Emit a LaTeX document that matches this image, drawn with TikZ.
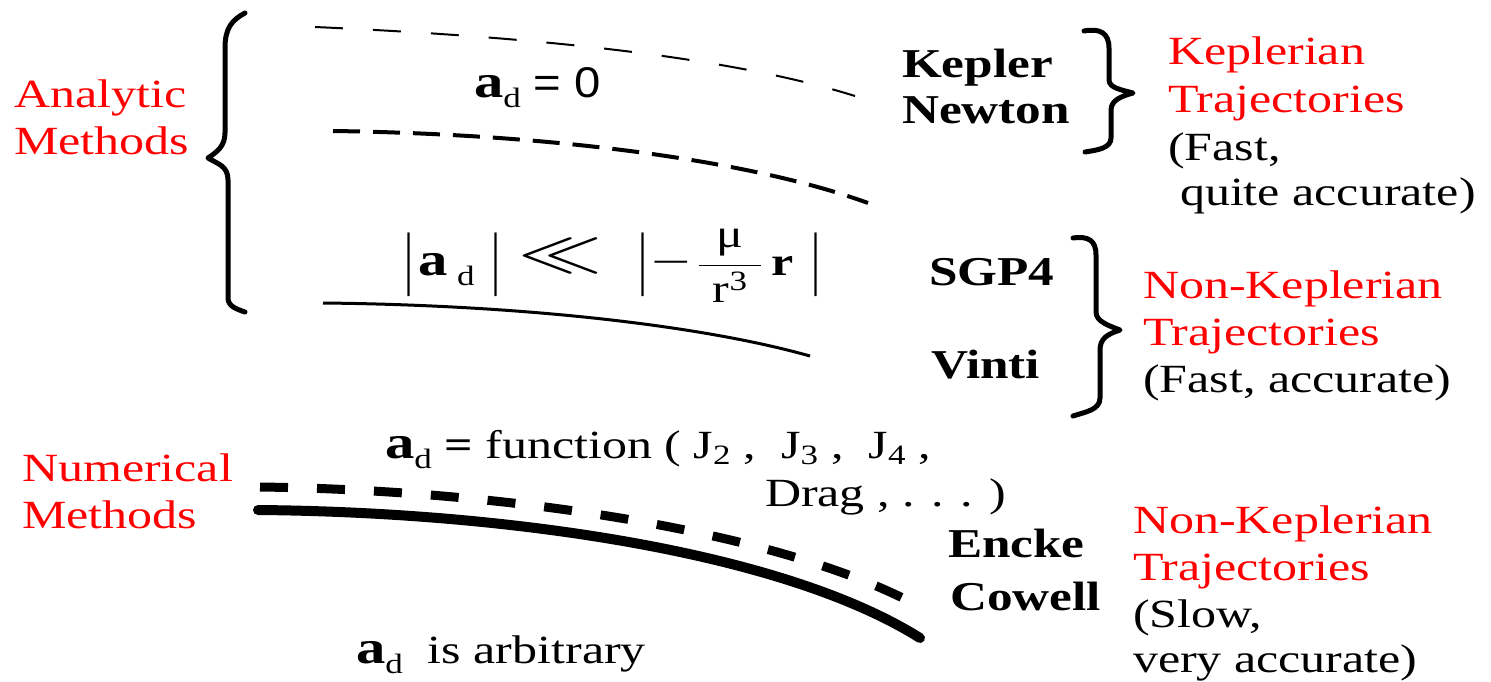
\RequirePackage{fix-cm}
\documentclass[tikz,border=0pt]{standalone}
\usepackage{amsmath}
\usepackage{graphicx}
\usepackage{fontspec}
\setmainfont{Liberation Serif}[FakeStretch=1.25]
\newfontfamily\sansf{Liberation Sans}[FakeStretch=1.1]
\newcommand{\adsym}{{\fontsize{47}{47}\selectfont\textbf{a}}\raisebox{-10pt}{\fontsize{28}{28}\selectfont d}}
\newcommand{\vb}{\raisebox{-6pt}{\scalebox{0.9}[1.75]{|}}}
\begin{document}
\begin{tikzpicture}[x=1pt,y=-1pt,
  txt/.style={anchor=base west,inner sep=0pt,outer sep=0pt,font=\fontsize{40}{47}\selectfont},
  redtxt/.style={txt,text=red},
  bftxt/.style={txt,font=\fontsize{41}{47}\selectfont\bfseries},
  bracepath/.style={line width=5pt,line cap=round,line join=round},
  thindash/.style={line width=2pt,dash pattern=on 28pt off 30pt},
  meddash/.style={line width=4pt,dash pattern=on 27pt off 13pt},
  thickdash/.style={line width=9pt,dash pattern=on 28pt off 29pt},
  solidthin/.style={line width=3pt},
  solidthick/.style={line width=10pt}]
\useasboundingbox (0,0) rectangle (1491,681);

% braces
\draw[bracepath] (245,13) .. controls (232,20) and (225,28) .. (225,48) -- (225,133)
  .. controls (225,146) and (217,152) .. (208,158)
  .. controls (218,164) and (228,166) .. (228,180) -- (228,298)
  .. controls (228,306) and (236,309) .. (245,312);
\draw[bracepath] (1084,31) .. controls (1100,28) and (1109,33) .. (1109,48) -- (1109,80)
  .. controls (1109,88) and (1122,90) .. (1133,93)
  .. controls (1122,96) and (1111,100) .. (1111,110) -- (1111,138)
  .. controls (1111,148) and (1098,150) .. (1085,152);
\draw[bracepath] (1073,238) .. controls (1088,236) and (1096,240) .. (1096,255) -- (1096,312)
  .. controls (1096,322) and (1110,326) .. (1120,330)
  .. controls (1108,334) and (1100,338) .. (1100,350) -- (1100,398)
  .. controls (1100,410) and (1085,412) .. (1073,416);

% trajectories
\draw[thindash] (315,27) .. controls (560,38) and (740,60) .. (855,96);
\draw[meddash] (333,131) .. controls (550,134) and (750,160) .. (868,203);
\draw[solidthin] (323,303) .. controls (520,305) and (700,325) .. (810,356);
\draw[thickdash] (260,487) .. controls (500,490) and (780,530) .. (920,607);
\draw[solidthick,line cap=round] (258,510) .. controls (500,512) and (780,550) .. (920,638);

% left labels
\node[redtxt] (an1) at (14,107) {Analytic};
\node[redtxt] (an2) at (14,154) {Methods};
\node[redtxt] (nu1) at (22,481) {Numerical};
\node[redtxt] (nu2) at (22,528) {Methods};

% equations
\node[txt] (eq0) at (474,97) {\adsym\ {\fontsize{43}{43}\sansf = 0}};
\node[txt] (cond) at (404,275) {%
\makebox[14pt][l]{\vb}%
\makebox[39pt][l]{\fontsize{47}{47}\selectfont\textbf{a}}%
\makebox[34pt][l]{\raisebox{-10pt}{\fontsize{28}{28}\selectfont d}}%
\makebox[27pt][l]{\vb}%
\makebox[120pt][l]{\raisebox{5pt}{\scalebox{2.1}[1.45]{$\ll$}}}%
\makebox[13pt][l]{\vb}%
\makebox[47pt][l]{\scalebox{1.4}[1]{−}}%
\makebox[73pt][l]{$\dfrac{\makebox[62pt]{\text{μ}}}{\text{r}^{\text{3}}}$}%
\makebox[40pt][l]{\textbf{r}}%
\vb};
\node[txt] (fun1) at (385,458) {\adsym\ \textbf{=} function ( J\textsubscript{2} ,\ \ J\textsubscript{3} ,\ \ J\textsubscript{4} ,};
\node[txt] (fun2) at (765,506) {Drag , . . . )};
\node[txt] (arb) at (356,663) {\adsym\ \ is arbitrary};

% methods
\node[bftxt] (kep) at (902,77) {Kepler};
\node[bftxt] (new) at (902,123) {Newton};
\node[bftxt] (sgp) at (929,285) {SGP4};
\node[bftxt] (vin) at (931,378) {Vinti};
\node[bftxt] (enc) at (948,557) {Encke};
\node[bftxt] (cow) at (950,610) {Cowell};

% right labels
\node[redtxt] (k1) at (1168,64) {Keplerian};
\node[redtxt] (k2) at (1168,112) {Trajectories};
\node[txt] (k3) at (1168,160) {(Fast,};
\node[txt] (k4) at (1180,205) {quite accurate)};
\node[redtxt] (n1) at (1143,298) {Non-Keplerian};
\node[redtxt] (n2) at (1143,345) {Trajectories};
\node[txt] (n3) at (1143,392) {(Fast, accurate)};
\node[redtxt] (m1) at (1133,533) {Non-Keplerian};
\node[redtxt] (m2) at (1133,580) {Trajectories};
\node[txt] (m3) at (1133,627) {(Slow,};
\node[txt] (m4) at (1133,672) {very accurate)};
\end{tikzpicture}
\end{document}
